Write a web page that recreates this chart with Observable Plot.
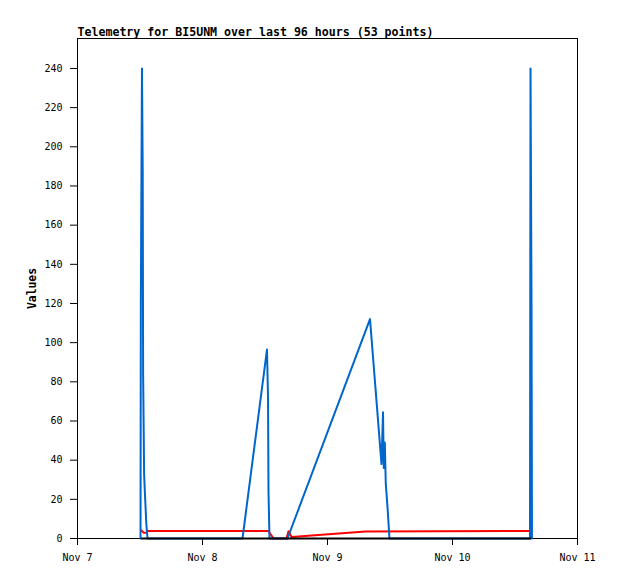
<!DOCTYPE html>
<html>
<head>
<meta charset="utf-8">
<script src="https://cdn.jsdelivr.net/npm/d3@7"></script>
<script src="https://cdn.jsdelivr.net/npm/@observablehq/plot@0.6"></script>
<style>
  body { margin: 0; background: #fff; }
  svg { display: block; }
</style>
</head>
<body>
<div id="chart"></div>
<script>
const title = "Telemetry for BI5UNM over last 96 hours (53 points)";
const yLabel = "Values";
const startDay = Date.UTC(2023, 10, 7); // Nov 7, 00:00
const yTicks = [0, 20, 40, 60, 80, 100, 120, 140, 160, 180, 200, 220, 240];
const xTickDays = [0, 1, 2, 3, 4]; // Nov 7 .. Nov 11

// Blue series (hours since Nov 7 00:00, value)
const blueHours = [12.10, 12.16, 12.38, 12.52, 12.60, 12.79, 12.92, 13.21, 13.44,
                   31.68, 36.38, 36.58, 36.67, 36.86,
                   40.32, 56.16, 58.37, 58.66, 58.80, 59.00, 59.19, 59.52, 59.90,
                   86.88, 86.98, 87.17, 87.26];
const blueValues = [0, 120, 240, 188, 84, 33, 24.5, 7.6, 0,
                    0, 96.5, 72, 24.5, 0,
                    0, 112, 38, 64.5, 36, 49, 28, 16, 0,
                    0, 240, 120, 0];

// Red series
const redHours = [12.29, 12.67, 13.25, 13.54, 36.67, 37.63, 40.13, 40.51, 41.09, 55.30, 86.78];
const redValues = [4.2, 3.0, 3.0, 3.8, 3.8, 0, 0, 3.7, 0.8, 3.6, 3.8];

// Black series
const blackHours = [12.29, 86.98];
const blackValues = [0, 0];

const toDate = h => new Date(startDay + h * 3600e3);
const mk = (hs, vs) => hs.map((h, i) => ({t: toDate(h), v: vs[i]}));
const blue = mk(blueHours, blueValues);
const red = mk(redHours, redValues);
const black = mk(blackHours, blackValues);
const xTicks = xTickDays.map(d => toDate(d * 24));

const chart = Plot.plot({
  width: 618,
  height: 579,
  marginLeft: 77,
  marginRight: 41,
  marginTop: 38,
  marginBottom: 41,
  style: {fontFamily: "DejaVu Sans Mono", fontSize: "10px", background: "#fff", color: "#000"},
  x: {type: "utc", domain: [toDate(0), toDate(96)]},
  y: {domain: [0, 255.3]},
  marks: [
    Plot.frame({stroke: "#000"}),
    Plot.axisY({ticks: yTicks, tickSize: 7, tickPadding: 8, label: null}),
    Plot.axisX({ticks: xTicks, tickSize: 7, tickPadding: 8, tickFormat: d3.utcFormat("%b %-d"), label: null}),
    Plot.lineY(red, {x: "t", y: "v", stroke: "#ff0000", strokeWidth: 2}),
    Plot.lineY(blue, {x: "t", y: "v", stroke: "#0066cc", strokeWidth: 2}),
    Plot.lineY(black, {x: "t", y: "v", stroke: "#000", strokeWidth: 2}),
    Plot.text([title], {frameAnchor: "top-left", textAnchor: "start", lineAnchor: "bottom", dy: -3,
                        fontWeight: "bold", fontSize: 11.6, fill: "#000"}),
    Plot.text([yLabel], {frameAnchor: "left", textAnchor: "middle", rotate: -90, dx: -45,
                         fontWeight: "bold", fontSize: 11.4, fill: "#000"})
  ]
});
document.getElementById("chart").appendChild(chart);
</script>
</body>
</html>
